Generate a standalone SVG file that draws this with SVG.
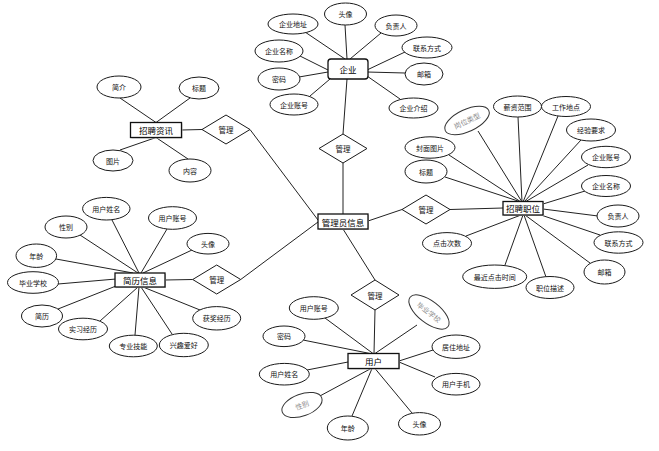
<svg xmlns="http://www.w3.org/2000/svg" width="659" height="451" viewBox="0 0 659 451">
<style>
.bg{fill:#ffffff}
.ln line{stroke:#222;stroke-width:1}
ellipse{fill:#fff;stroke:#1a1a1a;stroke-width:1}
.gr ellipse{stroke:#333}
text{font-family:"Noto Sans CJK SC","Noto Sans",sans-serif;font-size:7px;fill:#111;text-anchor:middle;dominant-baseline:central}
.gr text{fill:#8a8a8a}
.ent rect.s{fill:#c8c8c8;stroke:none}
.ent rect.b{fill:#fff;stroke:#111;stroke-width:1.3}
.ent text{font-size:8.5px;fill:#000}
.rel polygon{fill:#fff;stroke:#1a1a1a;stroke-width:1}
.rel text{font-size:7.5px}
</style>
<rect class="bg" x="0" y="0" width="659" height="451"/>
<g id="connectors" class="ln">
<!-- 企业 -->
<line x1="347" y1="59" x2="345" y2="25"/>
<line x1="345" y1="59" x2="305" y2="32"/>
<line x1="350" y1="59" x2="381" y2="33"/>
<line x1="328" y1="70" x2="300" y2="56"/>
<line x1="367" y1="70" x2="405" y2="52"/>
<line x1="328" y1="72" x2="299" y2="77"/>
<line x1="367" y1="72" x2="405" y2="73"/>
<line x1="330" y1="79" x2="310" y2="96"/>
<line x1="367" y1="76" x2="400" y2="99"/>
<line x1="347" y1="79" x2="343" y2="134"/>
<line x1="343" y1="163" x2="343" y2="214"/>
<!-- 管理员信息 -->
<line x1="368" y1="221" x2="402" y2="209.5"/>
<line x1="450" y1="209.5" x2="503" y2="208"/>
<line x1="250" y1="129.5" x2="318" y2="220"/>
<line x1="240.7" y1="279.5" x2="318" y2="222"/>
<line x1="343" y1="229" x2="375" y2="280"/>
<!-- 招聘资讯 -->
<line x1="181.5" y1="130" x2="202" y2="129.5"/>
<line x1="156" y1="122.5" x2="120" y2="98"/>
<line x1="156" y1="122.5" x2="190" y2="98"/>
<line x1="156" y1="137.5" x2="120" y2="150"/>
<line x1="156" y1="137.5" x2="188" y2="159"/>
<!-- 招聘职位 -->
<line x1="522" y1="202" x2="478" y2="131"/>
<line x1="522" y1="202" x2="518" y2="117"/>
<line x1="523" y1="202" x2="558" y2="116"/>
<line x1="524" y1="202" x2="581" y2="140"/>
<line x1="521" y1="202" x2="449" y2="155"/>
<line x1="525" y1="202" x2="588" y2="165"/>
<line x1="521" y1="202" x2="445" y2="177"/>
<line x1="543" y1="204" x2="585" y2="191"/>
<line x1="543" y1="209" x2="598" y2="216"/>
<line x1="541" y1="215" x2="600" y2="235"/>
<line x1="525" y1="215" x2="590" y2="263"/>
<line x1="524" y1="215" x2="546" y2="277"/>
<line x1="523" y1="215" x2="505" y2="265"/>
<line x1="521" y1="215" x2="466" y2="236"/>
<!-- 简历信息 -->
<line x1="165" y1="280" x2="192.7" y2="279.5"/>
<line x1="139" y1="273" x2="112" y2="220"/>
<line x1="138" y1="273" x2="80" y2="235"/>
<line x1="141" y1="273" x2="167" y2="229"/>
<line x1="143" y1="273" x2="192" y2="250"/>
<line x1="133" y1="273" x2="56" y2="259"/>
<line x1="116" y1="279" x2="58" y2="284"/>
<line x1="116" y1="286" x2="58" y2="309"/>
<line x1="138" y1="287" x2="100" y2="321"/>
<line x1="139" y1="287" x2="135" y2="335"/>
<line x1="141" y1="287" x2="172" y2="334"/>
<line x1="143" y1="287" x2="200" y2="310"/>
<!-- 用户 -->
<line x1="375" y1="310" x2="374" y2="353.5"/>
<line x1="373" y1="353.5" x2="325" y2="318"/>
<line x1="375" y1="353.5" x2="417" y2="325"/>
<line x1="370" y1="353.5" x2="303" y2="340"/>
<line x1="399" y1="361" x2="433" y2="350"/>
<line x1="348" y1="362" x2="307" y2="370"/>
<line x1="399" y1="362" x2="435" y2="377"/>
<line x1="371" y1="368.5" x2="318" y2="397"/>
<line x1="372" y1="368.5" x2="352" y2="416"/>
<line x1="375" y1="368.5" x2="412" y2="413"/>
</g>

<!-- 企业 -->
<g id="n-qiye" class="ent">
<rect class="b" x="328" y="59" width="40" height="20" rx="3"/>
<text x="348" y="69">企业</text>
</g>
<g id="a-qiye-touxiang"><ellipse cx="345.5" cy="14" rx="21" ry="11"/><text x="345.5" y="14">头像</text></g>
<g id="a-qiye-dizhi"><ellipse cx="293" cy="24" rx="25" ry="10"/><text x="293" y="24">企业地址</text></g>
<g id="a-qiye-fuzeren"><ellipse cx="396" cy="25.5" rx="21" ry="10.5"/><text x="396" y="25.5">负责人</text></g>
<g id="a-qiye-mingcheng"><ellipse cx="279" cy="51" rx="24" ry="11"/><text x="279" y="51">企业名称</text></g>
<g id="a-qiye-lianxi"><ellipse cx="427" cy="47.5" rx="25" ry="10.5"/><text x="427" y="47.5">联系方式</text></g>
<g id="a-qiye-mima"><ellipse cx="279" cy="79" rx="21" ry="11"/><text x="279" y="79">密码</text></g>
<g id="a-qiye-youxiang"><ellipse cx="424" cy="74" rx="19" ry="11"/><text x="424" y="74">邮箱</text></g>
<g id="a-qiye-zhanghao"><ellipse cx="294" cy="104.5" rx="24" ry="10.5"/><text x="294" y="104.5">企业账号</text></g>
<g id="a-qiye-jieshao"><ellipse cx="413.5" cy="108" rx="24.5" ry="10"/><text x="413.5" y="108">企业介绍</text></g>

<g id="r-top" class="rel"><polygon points="343,134 367,148.5 343,163 319,148.5"/><text x="343" y="148.5">管理</text></g>

<!-- 管理员信息 -->
<g id="n-admin" class="ent">
<rect class="s" x="319" y="215" width="50" height="15"/>
<rect class="b" x="318" y="214" width="50" height="15"/>
<text x="343" y="221.5">管理员信息</text>
</g>

<!-- 招聘资讯 -->
<g id="n-zixun" class="ent">
<rect class="s" x="131.5" y="123.5" width="51" height="15"/>
<rect class="b" x="130.5" y="122.5" width="51" height="15"/>
<text x="156" y="130">招聘资讯</text>
</g>
<g id="r-zixun" class="rel"><polygon points="226,115 250,129.5 226,144 202,129.5"/><text x="226" y="129.5">管理</text></g>
<g id="a-zx-jianjie"><ellipse cx="119" cy="87" rx="22" ry="11"/><text x="119" y="87">简介</text></g>
<g id="a-zx-biaoti"><ellipse cx="199" cy="88" rx="20" ry="11"/><text x="199" y="88">标题</text></g>
<g id="a-zx-tupian"><ellipse cx="113" cy="160.5" rx="20" ry="10.5"/><text x="113" y="160.5">图片</text></g>
<g id="a-zx-neirong"><ellipse cx="190" cy="170.5" rx="21" ry="11.5"/><text x="190" y="170.5">内容</text></g>

<!-- 招聘职位 -->
<g id="n-zhiwei" class="ent">
<rect class="s" x="504" y="202.5" width="40" height="13.5"/>
<rect class="b" x="503" y="201.5" width="40" height="13.5"/>
<text x="523" y="208.3">招聘职位</text>
</g>
<g id="r-zhiwei" class="rel"><polygon points="426,195 450,209.5 426,224 402,209.5"/><text x="426" y="209.5">管理</text></g>
<g id="a-zw-leixing" class="gr" transform="rotate(-25 467 120.5)"><ellipse cx="467" cy="120.5" rx="24" ry="11"/><text x="467" y="120.5">岗位类型</text></g>
<g id="a-zw-xinzi"><ellipse cx="517.5" cy="106.5" rx="24" ry="10.5"/><text x="517.5" y="106.5">薪资范围</text></g>
<g id="a-zw-didian"><ellipse cx="566" cy="106.5" rx="24.5" ry="10"/><text x="566" y="106.5">工作地点</text></g>
<g id="a-zw-jingyan"><ellipse cx="591" cy="130" rx="24.5" ry="11"/><text x="591" y="130">经验要求</text></g>
<g id="a-zw-fengmian"><ellipse cx="430" cy="147.5" rx="25" ry="10.7"/><text x="430" y="147.5">封面图片</text></g>
<g id="a-zw-zhanghao"><ellipse cx="606" cy="157" rx="24.5" ry="10.7"/><text x="606" y="157">企业账号</text></g>
<g id="a-zw-biaoti"><ellipse cx="426" cy="171.5" rx="21" ry="11.5"/><text x="426" y="171.5">标题</text></g>
<g id="a-zw-mingcheng"><ellipse cx="606" cy="186" rx="24.5" ry="10.5"/><text x="606" y="186">企业名称</text></g>
<g id="a-zw-fuzeren"><ellipse cx="618" cy="216" rx="21" ry="11"/><text x="618" y="216">负责人</text></g>
<g id="a-zw-lianxi"><ellipse cx="618.5" cy="242.5" rx="24.5" ry="10.7"/><text x="618.5" y="242.5">联系方式</text></g>
<g id="a-zw-youxiang"><ellipse cx="604.5" cy="272" rx="20.5" ry="12"/><text x="604.5" y="272">邮箱</text></g>
<g id="a-zw-miaoshu"><ellipse cx="550" cy="287.5" rx="24" ry="11"/><text x="550" y="287.5">职位描述</text></g>
<g id="a-zw-zuijin"><ellipse cx="494.7" cy="276.7" rx="32" ry="11.7"/><text x="494.7" y="276.7">最近点击时间</text></g>
<g id="a-zw-cishu"><ellipse cx="447" cy="243.3" rx="24.5" ry="10.7"/><text x="447" y="243.3">点击次数</text></g>

<!-- 简历信息 -->
<g id="n-jianli" class="ent">
<rect class="s" x="116" y="274" width="50" height="14"/>
<rect class="b" x="115" y="273" width="50" height="14"/>
<text x="140" y="280">简历信息</text>
</g>
<g id="r-jianli" class="rel"><polygon points="216.7,265 240.7,279.5 216.7,294 192.7,279.5"/><text x="216.7" y="279.5">管理</text></g>
<g id="a-jl-xingming"><ellipse cx="106.3" cy="208.7" rx="23.7" ry="11.3"/><text x="106.3" y="208.7">用户姓名</text></g>
<g id="a-jl-xingbie"><ellipse cx="66" cy="227" rx="21" ry="11"/><text x="66" y="227">性别</text></g>
<g id="a-jl-zhanghao"><ellipse cx="172.5" cy="218" rx="24" ry="11.3"/><text x="172.5" y="218">用户账号</text></g>
<g id="a-jl-touxiang"><ellipse cx="208" cy="243.7" rx="21" ry="10.3"/><text x="208" y="243.7">头像</text></g>
<g id="a-jl-nianling"><ellipse cx="36.3" cy="255.7" rx="20.3" ry="11.7"/><text x="36.3" y="255.7">年龄</text></g>
<g id="a-jl-xuexiao"><ellipse cx="33" cy="282.5" rx="25.5" ry="10.8"/><text x="33" y="282.5">毕业学校</text></g>
<g id="a-jl-jianli"><ellipse cx="42" cy="316" rx="20.5" ry="11"/><text x="42" y="316">简历</text></g>
<g id="a-jl-shixi"><ellipse cx="83" cy="329" rx="24.5" ry="10.8"/><text x="83" y="329">实习经历</text></g>
<g id="a-jl-jineng"><ellipse cx="133.3" cy="346" rx="24" ry="10.8"/><text x="133.3" y="346">专业技能</text></g>
<g id="a-jl-aihao"><ellipse cx="183.8" cy="345" rx="24.5" ry="11.7"/><text x="183.8" y="345">兴趣爱好</text></g>
<g id="a-jl-huojiang"><ellipse cx="216.7" cy="318.3" rx="24" ry="11.7"/><text x="216.7" y="318.3">获奖经历</text></g>

<!-- 用户 -->
<g id="r-yonghu" class="rel"><polygon points="375,280 399,295 375,310 351,295"/><text x="375" y="295">管理</text></g>
<g id="n-yonghu" class="ent">
<rect class="s" x="349" y="354.5" width="51" height="15"/>
<rect class="b" x="348" y="353.5" width="51" height="15"/>
<text x="373.5" y="361">用户</text>
</g>
<g id="a-yh-zhanghao"><ellipse cx="313.8" cy="308" rx="24.5" ry="11.3"/><text x="313.8" y="308">用户账号</text></g>
<g id="a-yh-xuexiao" class="gr" transform="rotate(38 429 312)"><ellipse cx="429" cy="312" rx="24" ry="11"/><text x="429" y="312">毕业学校</text></g>
<g id="a-yh-mima"><ellipse cx="284" cy="336.3" rx="21" ry="10.3"/><text x="284" y="336.3">密码</text></g>
<g id="a-yh-dizhi"><ellipse cx="456" cy="346.7" rx="24" ry="11.7"/><text x="456" y="346.7">居住地址</text></g>
<g id="a-yh-xingming"><ellipse cx="284.3" cy="374.2" rx="25" ry="10.8"/><text x="284.3" y="374.2">用户姓名</text></g>
<g id="a-yh-shouji"><ellipse cx="456" cy="384.2" rx="24" ry="10.8"/><text x="456" y="384.2">用户手机</text></g>
<g id="a-yh-xingbie" class="gr" transform="rotate(-20 302 405)"><ellipse cx="302" cy="405" rx="21" ry="11"/><text x="302" y="405">性别</text></g>
<g id="a-yh-nianling"><ellipse cx="347.8" cy="428" rx="20.5" ry="12"/><text x="347.8" y="428">年龄</text></g>
<g id="a-yh-touxiang"><ellipse cx="419.5" cy="423.8" rx="21" ry="11.2"/><text x="419.5" y="423.8">头像</text></g>
</svg>
